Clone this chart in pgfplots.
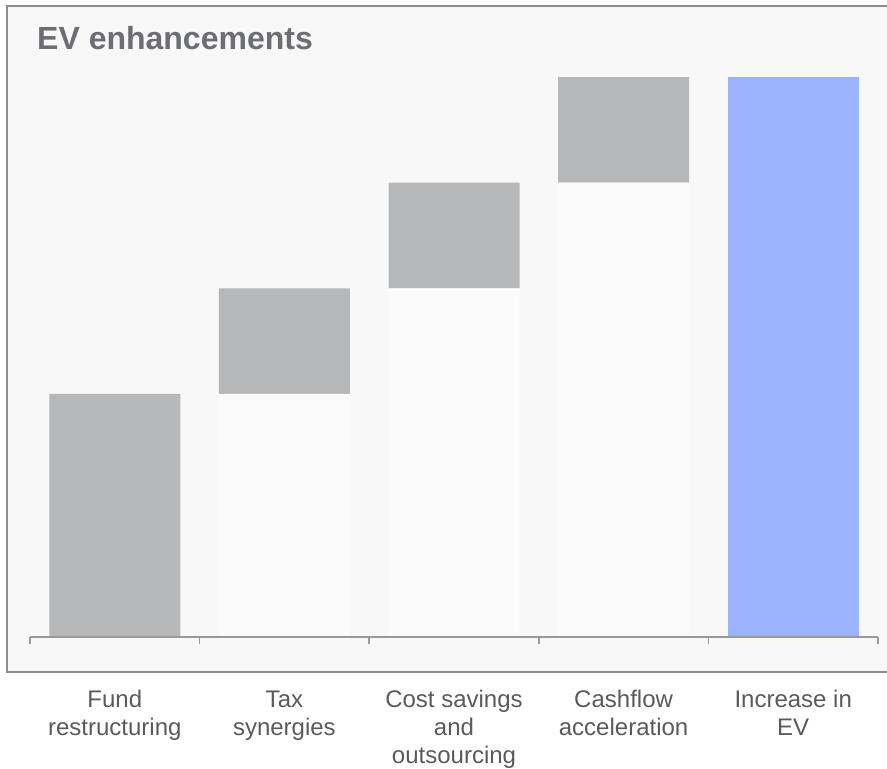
\documentclass[border=0pt]{standalone}
\usepackage{pgfplots}
\pgfplotsset{compat=1.18}
\usepackage{fontspec}
\setmainfont{Liberation Sans}

\definecolor{framegray}{HTML}{8C8C8C}
\definecolor{panelbg}{HTML}{F8F8F8}
\definecolor{ghostbar}{HTML}{FBFBFB}
\definecolor{stepgray}{HTML}{B6B7B9}
\definecolor{totalblue}{HTML}{9BB3FC}
\definecolor{axisgray}{HTML}{999999}
\definecolor{titlegray}{HTML}{6D6E71}
\definecolor{labelgray}{HTML}{595A5C}

\begin{document}
\begin{tikzpicture}[x=1pt,y=1pt]
\useasboundingbox (0,0) rectangle (887,769);
% panel with frame
\fill[panelbg] (7,97) rectangle (900,763);
\draw[framegray, line width=2.5pt] (7,97) rectangle (900,763);
\node[anchor=base west, inner sep=0, text=titlegray,
      font=\fontsize{32}{36}\selectfont\bfseries] at (37,719) {EV enhancements};

\begin{axis}[
  at={(30pt,132pt)}, anchor=south west,
  scale only axis, width=848pt, height=560pt,
  xmin=0.5, xmax=5.5, ymin=0, ymax=5.3,
  clip=false, axis on top,
  axis x line*=bottom, axis y line=none,
  x axis line style={draw=axisgray, line width=1.5pt},
  xtick={1,2,3,4,5},
  xticklabels={{Fund\\restructuring},{Tax\\synergies},{Cost savings\\and\\outsourcing},{Cashflow\\acceleration},{Increase in\\EV}},
  major tick length=0pt,
  minor xtick={0.5,1.5,2.5,3.5,4.5,5.5},
  minor tick length=7pt,
  tick align=outside,
  every tick/.style={draw=axisgray, line width=1.5pt},
  xticklabel style={font=\fontsize{24}{28}\selectfont, text=labelgray,
                    align=center, yshift=-50pt},
  ybar stacked, bar width=131pt,
]
% invisible base of each step
\addplot[fill=ghostbar, draw=none] coordinates {(1,0) (2,2.3) (3,3.3) (4,4.3) (5,0)};
% contributions
\addplot[fill=stepgray, draw=none] coordinates {(1,2.3) (2,1.0) (3,1.0) (4,1.0) (5,0)};
% total
\addplot[fill=totalblue, draw=none] coordinates {(1,0) (2,0) (3,0) (4,0) (5,5.3)};
\end{axis}
\end{tikzpicture}
\end{document}
